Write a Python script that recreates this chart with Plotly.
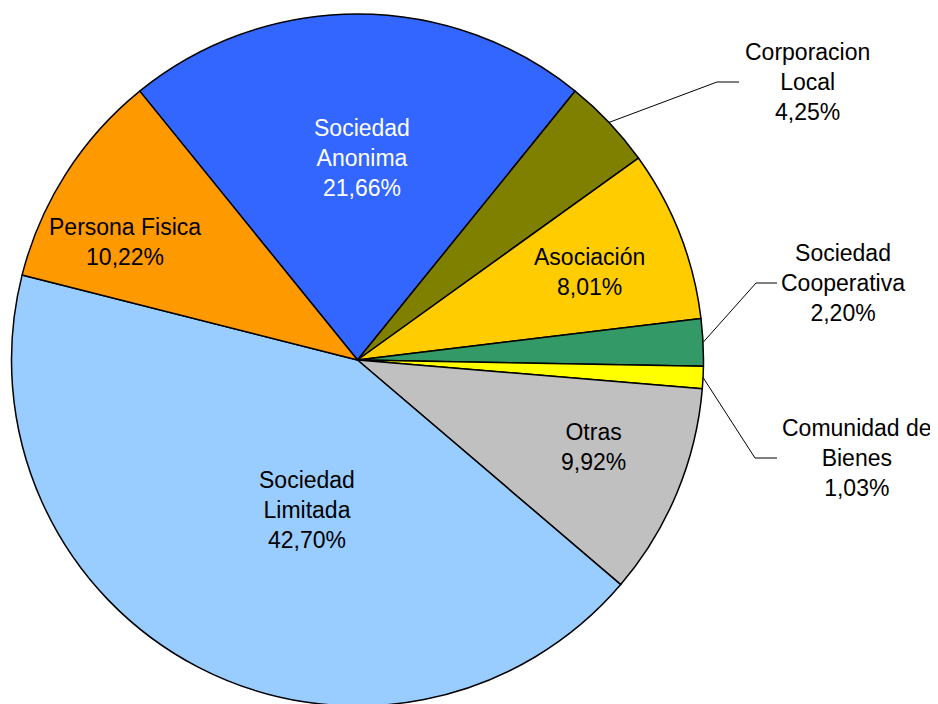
import math
import plotly.graph_objects as go

# ---- data ----
categories = ["Sociedad Anonima", "Corporacion Local", "Asociación", "Sociedad Cooperativa",
              "Comunidad de Bienes", "Otras", "Sociedad Limitada", "Persona Fisica"]
shares = [21.66, 4.25, 8.01, 2.20, 1.03, 9.92, 42.70, 10.22]
label_lines = ["Sociedad<br>Anonima", "Corporacion<br>Local", "Asociación", "Sociedad<br>Cooperativa",
               "Comunidad de<br>Bienes", "Otras", "Sociedad<br>Limitada", "Persona Fisica"]
colors = ["#3366FF", "#808000", "#FFCC00", "#339966", "#FFFF00", "#C0C0C0", "#99CCFF", "#FF9900"]
text_colors = ["white", "black", "black", "black", "black", "black", "black", "black"]

# ---- layout geometry (pixels in the page; the page body has an 8px margin) ----
W, H = 938, 704
OFF = 8
CX, CY, R = 357.5 - OFF, 360 - OFF, 346
ROT = -39
label_pos = {
    "Sociedad Anonima": (362, 158),
    "Corporacion Local": (807, 82),
    "Asociación": (589, 272),
    "Sociedad Cooperativa": (843, 283),
    "Comunidad de Bienes": (857, 458),
    "Otras": (593, 447),
    "Sociedad Limitada": (307, 510),
    "Persona Fisica": (125, 242),
}
leaders = {  # elbow, end
    "Corporacion Local": ((717, 82), (739, 82)),
    "Sociedad Cooperativa": ((756, 283), (777, 283)),
    "Comunidad de Bienes": ((755, 458), (777, 458)),
}

def px(x):
    return x / W

def py(y):
    return 1 - y / H

FONT = "Liberation Sans, Arial, sans-serif"

fig = go.Figure(go.Pie(
    labels=categories,
    values=shares,
    sort=False,
    direction="clockwise",
    rotation=ROT,
    marker=dict(colors=colors, line=dict(color="black", width=1.5)),
    textinfo="none",
    hoverinfo="label+percent",
    showlegend=False,
    domain=dict(x=[px(CX - R), px(CX + R)], y=[py(CY + R), py(CY - R)]),
))

total = sum(shares)
annotations = []
shapes = []
cum = 0.0
for name, v, lines, tc in zip(categories, shares, label_lines, text_colors):
    mid = ROT + (cum + v / 2) / total * 360
    cum += v
    txt = lines + "<br>" + f"{v:.2f}".replace(".", ",") + "%"
    x, y = label_pos[name]
    annotations.append(dict(
        x=px(x - OFF), y=py(y - OFF), xref="paper", yref="paper", text=txt, showarrow=False,
        xanchor="center", yanchor="middle", align="center",
        font=dict(family=FONT, size=23, color=tc),
    ))
    if name in leaders:
        a = math.radians(mid)
        sx = CX + R * math.sin(a)
        sy = CY - R * math.cos(a)
        (ex, ey), (fx, fy) = leaders[name]
        ex, ey, fx, fy = ex - OFF, ey - OFF, fx - OFF, fy - OFF
        shapes.append(dict(
            type="path", xref="paper", yref="paper",
            path=f"M {px(sx)},{py(sy)} L {px(ex)},{py(ey)} L {px(fx)},{py(fy)}",
            line=dict(color="black", width=1),
        ))

fig.update_layout(
    width=W, height=H, autosize=False,
    margin=dict(l=0, r=0, t=0, b=0, pad=0),
    paper_bgcolor="white", plot_bgcolor="white",
    annotations=annotations, shapes=shapes,
    font=dict(family=FONT),
)

fig.write_html("out.html")
